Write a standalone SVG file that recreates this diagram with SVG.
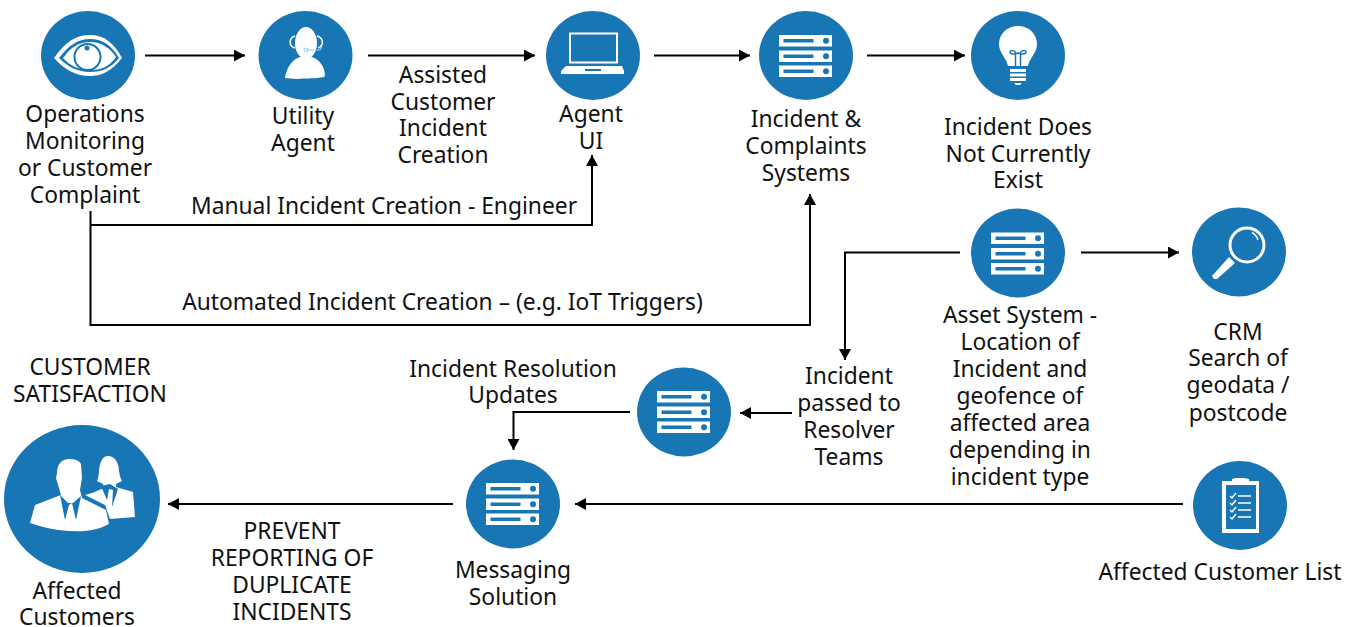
<svg xmlns="http://www.w3.org/2000/svg" xmlns:xlink="http://www.w3.org/1999/xlink" width="1360" height="627" viewBox="0 0 1360 627">
<style>
.c{fill:#1876b5}
.w{fill:#fff}
.b{fill:#1876b5}
text{font-family:"Noto Sans","Open Sans",sans-serif;font-size:22.8px;fill:#111;text-anchor:middle}
.l{fill:none;stroke:#000;stroke-width:2}
</style>
<defs>
<marker id="a" markerUnits="userSpaceOnUse" markerWidth="12" markerHeight="12" refX="11" refY="6" orient="auto"><path d="M0 0L11 6L0 12z" fill="#000"/></marker>
<g id="srv">
<g id="row"><rect x="-27" y="-22" width="53" height="11.500" class="w"/><rect x="-22.500" y="-18" width="30" height="3.500" class="b"/><circle cx="20" cy="-16.200" r="3" class="b"/></g>
<use xlink:href="#row" y="15.500"/><use xlink:href="#row" y="30.500"/>
</g>
</defs>
<rect width="1360" height="627" fill="#fff"/>
<g id="connectors" class="l">
<path class="l" d="M145 55.500H245" marker-end="url(#a)"/>
<path class="l" d="M368 55.500H535" marker-end="url(#a)"/>
<path class="l" d="M654 55.500H750" marker-end="url(#a)"/>
<path class="l" d="M867 55.500H965" marker-end="url(#a)"/>
<path class="l" d="M90.500 225H592V155" marker-end="url(#a)"/>
<path class="l" d="M90.500 211V325H810V194" marker-end="url(#a)"/>
<path class="l" d="M960 252.500H845V360" marker-end="url(#a)"/>
<path class="l" d="M1081 252.500H1179" marker-end="url(#a)"/>
<path class="l" d="M792 413H740" marker-end="url(#a)"/>
<path class="l" d="M630 412H513.500V450" marker-end="url(#a)"/>
<path class="l" d="M1183 504H575" marker-end="url(#a)"/>
<path class="l" d="M453 504H168" marker-end="url(#a)"/>
</g>
<g id="node-operations">
<ellipse class="c" cx="88" cy="55.500" rx="47" ry="44.500"/>
<path class="w" d="M54 58C65 42 76 35 90 35C104 35 114 43 122 58C112 70 103 76 90 76C76 76 65 70 54 58z"/>
<path class="b" d="M59 58C69 45 78 39 90 39C103 39 112 46 119 58C111 68 102 72 90 72C78 72 68 67 59 58z"/>
<path class="w" d="M63 58C71 47 79 42 90 42C101 42 110 48 116 57C109 67 101 70 90 70C79 70 70 66 63 58z"/>
<circle cx="87.500" cy="57" r="13" fill="#fff" stroke="#1876b5" stroke-width="2"/>
<circle cx="87" cy="48" r="2.500" class="b"/>
</g>
<text x="85" y="122">Operations</text><text x="85" y="149">Monitoring</text><text x="85" y="176">or Customer</text><text x="85" y="203">Complaint</text>
<g id="node-utility">
<ellipse class="c" cx="305.500" cy="55.500" rx="47" ry="44.500"/>
<ellipse class="w" cx="306" cy="43" rx="11" ry="16"/>
<path class="w" d="M285 78C288 62 297 56 306 56C316 56 325 64 325 76C322 79 305 78 298 79C292 79 288 78 285 78z"/>
<path d="M295 36C289 38 288 46 295 48M317 36C324 38 324 46 318 48" fill="none" stroke="#fff" stroke-width="1.500"/>
<path d="M306 50H320L322 47" fill="none" stroke="#8fd0ee" stroke-width="1.200"/>
<circle cx="306" cy="50" r="2" fill="none" stroke="#8fd0ee"/>
</g>
<text x="303" y="124">Utility</text><text x="303" y="151">Agent</text>
<text x="443" y="83">Assisted</text><text x="443" y="110">Customer</text><text x="443" y="136">Incident</text><text x="443" y="163">Creation</text>
<g id="node-agent-ui">
<ellipse class="c" cx="593" cy="55.500" rx="47" ry="44.500"/>
<rect x="570" y="33.500" width="47" height="29" fill="none" stroke="#fff" stroke-width="2"/>
<path class="w" d="M566 66H622L624 71V74H561V71z"/>
<rect x="585" y="69" width="16" height="2" class="b"/>
</g>
<text x="591" y="122">Agent</text><text x="591" y="149">UI</text>
<g id="node-incident-systems">
<ellipse class="c" cx="806" cy="55.500" rx="47" ry="44.500"/>
<use xlink:href="#srv" x="806" y="57"/>
</g>
<text x="806" y="127">Incident &amp;</text><text x="806" y="154">Complaints</text><text x="806" y="181">Systems</text>
<g id="node-bulb">
<ellipse class="c" cx="1018" cy="55.500" rx="47" ry="44.500"/>
<path class="w" d="M1018 26C1007 26 999 34 999 44C999 53 1006 57 1008 66H1028C1030 57 1037 53 1037 44C1037 34 1029 26 1018 26z"/>
<path d="M1015.500 66V53C1015.500 50 1010 50 1010 52C1010 55 1016 54 1018 53C1020 54 1026 55 1026 52C1026 50 1020.500 50 1020.500 53V66" fill="none" stroke="#1876b5" stroke-width="1.500"/>
<rect x="1010" y="69" width="16" height="3" class="w"/><rect x="1010" y="73.500" width="16" height="3" class="w"/><rect x="1010" y="78" width="16" height="3" class="w"/>
<path class="w" d="M1014 83H1022L1020 85H1016z"/>
</g>
<text x="1018" y="135">Incident Does</text><text x="1018" y="162">Not Currently</text><text x="1018" y="188">Exist</text>
<text x="384" y="214">Manual Incident Creation - Engineer</text>
<text x="442.500" y="310">Automated Incident Creation – (e.g. IoT Triggers)</text>
<g id="node-asset">
<ellipse class="c" cx="1018" cy="253" rx="47" ry="44.500"/>
<use xlink:href="#srv" x="1018" y="254.500"/>
</g>
<text x="1020" y="323">Asset System -</text><text x="1020" y="350">Location of</text><text x="1020" y="377">Incident and</text><text x="1020" y="404">geofence of</text><text x="1020" y="431">affected area</text><text x="1020" y="458">depending in</text><text x="1020" y="485">incident type</text>
<g id="node-crm">
<ellipse class="c" cx="1239" cy="252" rx="47" ry="44.500"/>
<circle cx="1247" cy="245" r="17" fill="none" stroke="#fff" stroke-width="3"/>
<path d="M1252 232.500A13 13 0 0 1 1258 240" fill="none" stroke="#fff" stroke-width="1.500"/>
<path class="w" d="M1229 257L1235 263L1217 279H1214L1212 276z"/>
</g>
<text x="1238" y="340">CRM</text><text x="1238" y="366">Search of</text><text x="1238" y="393">geodata /</text><text x="1238" y="421">postcode</text>
<g id="node-resolver">
<ellipse class="c" cx="684" cy="412" rx="47" ry="44.500"/>
<use xlink:href="#srv" x="684" y="413"/>
</g>
<text x="849" y="384">Incident</text><text x="849" y="411">passed to</text><text x="849" y="438">Resolver</text><text x="849" y="465">Teams</text>
<text x="513" y="377">Incident Resolution</text><text x="513" y="403">Updates</text>
<text x="90" y="375">CUSTOMER</text><text x="90" y="402">SATISFACTION</text>
<g id="node-messaging">
<ellipse class="c" cx="513" cy="504" rx="47" ry="44.500"/>
<use xlink:href="#srv" x="513" y="505"/>
</g>
<text x="513" y="578">Messaging</text><text x="513" y="605">Solution</text>
<text x="292" y="539">PREVENT</text><text x="292" y="566">REPORTING OF</text><text x="292" y="593">DUPLICATE</text><text x="292" y="620">INCIDENTS</text>
<g id="node-customers">
<ellipse class="c" cx="82" cy="499" rx="78" ry="74"/>
<path class="w" d="M69 459C62 459 57 464 57 473L56 478L59 488L61 495L35 505L30 523C50 530 85 537 109 524L106 510L82 498L80 490L82 478L81 464C79 460 74 459 69 459z"/>
<path class="b" d="M60 495L65 520L69 505L72 503L76 520L81 496L73 503H68z"/>
<path class="w" d="M108 456C102 456 100 463 99 470C99 475 98 479 97 481L103 484L104 488L92 493L85 495L105 505L110 519L135 517L133 492L116 487L116 484L122 481C119 476 119 468 118 465C116 458 112 456 108 456z"/>
<path class="b" d="M101 486L107 500L109 489L113 490L112 507L118 489L110 484z"/>
</g>
<text x="77" y="599">Affected</text><text x="77" y="625">Customers</text>
<g id="node-list">
<ellipse class="c" cx="1240" cy="505.500" rx="47" ry="44.500"/>
<path class="w" d="M1222 481H1232V479L1236 478H1244L1249 479V481H1259V533H1222z"/>
<rect x="1226" y="485" width="30" height="44" class="b"/>
<g fill="none" stroke="#fff" stroke-width="1.500"><path d="M1230 496L1232 498L1236 493M1230 503L1232 505L1236 500M1230 510L1232 512L1236 507M1230 517L1232 519L1236 514"/><path d="M1238 496H1251M1238 503H1251M1238 510H1251M1238 517H1251"/></g>
</g>
<text x="1220" y="580">Affected Customer List</text>
</svg>
